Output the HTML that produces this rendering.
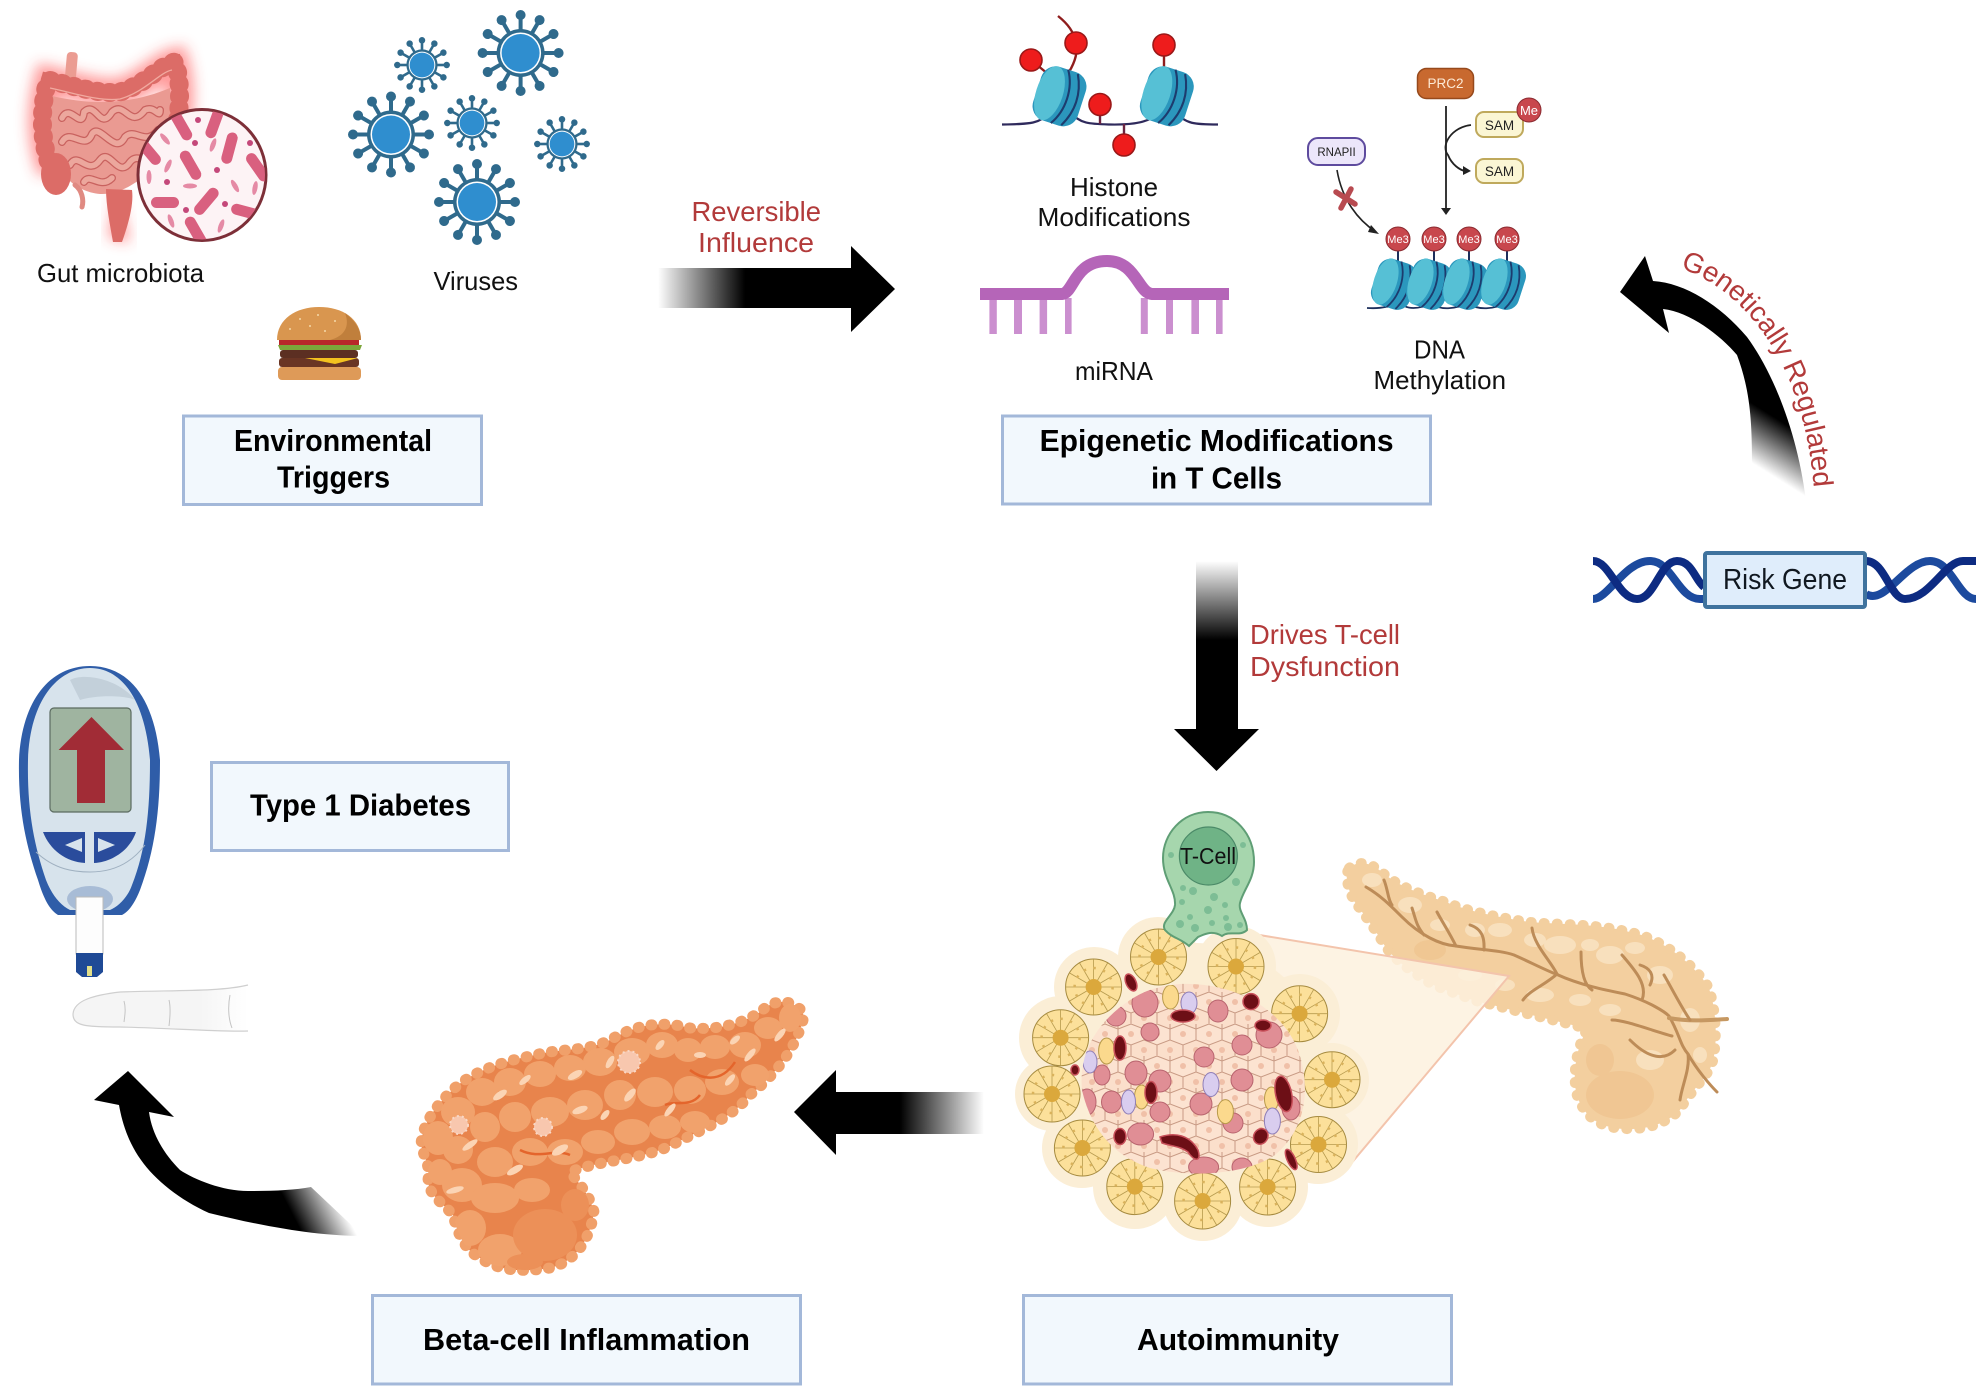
<!DOCTYPE html>
<html><head><meta charset="utf-8"><style>html,body{margin:0;padding:0;background:#fff}svg{display:block}text{font-family:"Liberation Sans",sans-serif}</style></head>
<body>
<svg xmlns="http://www.w3.org/2000/svg" width="1986" height="1395" viewBox="0 0 1986 1395">
<defs>
<linearGradient id="gr1" gradientUnits="userSpaceOnUse" x1="658" y1="0" x2="745" y2="0"><stop offset="0" stop-color="#fff"/><stop offset="1" stop-color="#000"/></linearGradient>
<linearGradient id="gr2" gradientUnits="userSpaceOnUse" x1="0" y1="561" x2="0" y2="640"><stop offset="0" stop-color="#fff"/><stop offset="1" stop-color="#000"/></linearGradient>
<linearGradient id="gr3" gradientUnits="userSpaceOnUse" x1="984" y1="0" x2="900" y2="0"><stop offset="0" stop-color="#fff"/><stop offset="1" stop-color="#000"/></linearGradient>
<linearGradient id="gr4" gradientUnits="userSpaceOnUse" x1="328" y1="1178" x2="285" y2="1200"><stop offset="0" stop-color="#fff"/><stop offset="1" stop-color="#000"/></linearGradient>
<linearGradient id="gr5" gradientUnits="userSpaceOnUse" x1="1752" y1="463" x2="1779" y2="420"><stop offset="0" stop-color="#fff"/><stop offset="1" stop-color="#000"/></linearGradient>
<linearGradient id="fing" gradientUnits="userSpaceOnUse" x1="200" y1="0" x2="248" y2="0"><stop offset="0" stop-color="#f5f5f5"/><stop offset="1" stop-color="#fff"/></linearGradient>
<filter id="glow" x="-30%" y="-30%" width="160%" height="160%"><feGaussianBlur stdDeviation="7"/></filter>
<clipPath id="micro"><ellipse cx="202" cy="175" rx="63" ry="64.5"/></clipPath>
<clipPath id="clusterClip"><path d="M1180,984 C1230,982 1280,1005 1298,1050 C1312,1090 1305,1130 1275,1155 C1245,1175 1190,1178 1150,1168 C1110,1155 1090,1125 1082,1090 C1078,1050 1100,1020 1130,1000 C1145,990 1160,986 1180,984Z"/></clipPath>
<clipPath id="orClip"><path d="M800,1009 C790,1000 775,998 760,1012 C740,1025 715,1030 690,1028 C660,1020 635,1025 610,1040 C585,1052 560,1048 535,1055 C510,1060 480,1068 458,1085 C435,1105 422,1125 421,1145 C425,1160 430,1165 428,1180 C428,1195 445,1205 453,1215 C458,1235 465,1250 480,1258 C500,1272 525,1272 550,1268 C575,1262 590,1240 594,1212 C590,1195 578,1182 570,1172 C600,1160 640,1160 670,1146 C700,1130 730,1120 750,1095 C775,1075 795,1050 803,1020 C804,1015 803,1012 800,1009Z"/></clipPath>
<pattern id="hex" patternUnits="userSpaceOnUse" width="26" height="32">
<rect width="26" height="32" fill="#fbdfcb"/>
<path d="M0,5 L13,0 L26,5 V16 L13,21 L0,16Z M13,21 V32 M0,16 V0 M26,16 V0" fill="#fce3d1" stroke="#c89a84" stroke-width="1"/>
<circle cx="13" cy="10" r="3" fill="#f0c0a8"/><circle cx="0" cy="26" r="3" fill="#f0c0a8"/><circle cx="26" cy="26" r="3" fill="#f0c0a8"/>
</pattern>
<g id="spk"><line x1="0" y1="-20" x2="0" y2="-34" stroke="#2f6a8c" stroke-width="4"/><circle cy="-38" r="5" fill="#2f6a8c"/></g>
<g id="virus">
<use href="#spk"/><use href="#spk" transform="rotate(30)"/><use href="#spk" transform="rotate(60)"/><use href="#spk" transform="rotate(90)"/><use href="#spk" transform="rotate(120)"/><use href="#spk" transform="rotate(150)"/><use href="#spk" transform="rotate(180)"/><use href="#spk" transform="rotate(210)"/><use href="#spk" transform="rotate(240)"/><use href="#spk" transform="rotate(270)"/><use href="#spk" transform="rotate(300)"/><use href="#spk" transform="rotate(330)"/>
<circle r="24" fill="#2f6a8c"/><circle r="20.5" fill="#fff"/><circle r="19" fill="#2f8ecf"/>
</g>
<g id="nuc" transform="rotate(18)">
<rect x="-19" y="-24" width="40" height="48" rx="13" fill="#2b97bd"/>
<ellipse cx="-8" cy="0" rx="11.5" ry="24" fill="#56c0d5"/>
<path d="M1,-24 C10,-10 10,10 1,24 M10,-23 C18,-8 18,8 10,23" fill="none" stroke="#1d3c6e" stroke-width="1.8"/>
</g>
<g id="ros">
<circle r="28" fill="#fce09a" stroke="#a58a3f" stroke-width="1"/>
<g stroke="#b69a4e" stroke-width=".8"><line x1="-28" y1="0" x2="28" y2="0"/><line x1="0" y1="-28" x2="0" y2="28"/><line x1="-24" y1="-14" x2="24" y2="14"/><line x1="-24" y1="14" x2="24" y2="-14"/><line x1="-14" y1="-24" x2="14" y2="24"/><line x1="-14" y1="24" x2="14" y2="-24"/></g>
<circle r="19" fill="none" stroke="#d9b25c" stroke-width="2.5" stroke-dasharray="2.5 7.4"/>
<circle r="8" fill="#dba83c"/>
</g>
</defs>
<rect width="1986" height="1395" fill="#fff"/>

<!-- GUT -->
<path d="M52,172 C40,140 40,110 48,80 C70,85 100,95 120,92 C145,85 160,65 175,62 C182,85 180,110 175,135" fill="none" stroke="#f33" stroke-width="28" opacity=".5" filter="url(#glow)"/>
<path d="M117,189 L130,242 L108,238Z" fill="#f33" opacity=".5" filter="url(#glow)"/>
<rect x="66" y="52" width="11" height="30" rx="4" fill="#eb9c92" transform="rotate(5 71 65)"/>
<path d="M52,96 C90,105 130,105 170,88 L174,150 C150,170 130,195 100,194 C75,192 52,170 48,140Z" fill="#ea9a92"/>
<g fill="none" stroke="#c9625f" stroke-width="8" stroke-linecap="round" stroke-linejoin="round">
<path d="M62,118 C70,102 82,132 84,112 C96,100 100,132 112,112 C125,100 130,130 145,110 C155,105 160,120 160,110"/>
<path d="M62,142 C70,127 85,152 92,134 C100,122 115,157 125,137 C135,127 145,147 158,130"/>
<path d="M70,165 C78,150 88,177 100,160 C110,147 118,180 130,162 C138,152 145,167 150,152"/>
<path d="M84,182 C90,172 100,190 112,178"/>
</g>
<g fill="none" stroke="#eca79d" stroke-width="5.5" stroke-linecap="round" stroke-linejoin="round">
<path d="M62,118 C70,102 82,132 84,112 C96,100 100,132 112,112 C125,100 130,130 145,110 C155,105 160,120 160,110"/>
<path d="M62,142 C70,127 85,152 92,134 C100,122 115,157 125,137 C135,127 145,147 158,130"/>
<path d="M70,165 C78,150 88,177 100,160 C110,147 118,180 130,162 C138,152 145,167 150,152"/>
<path d="M84,182 C90,172 100,190 112,178"/>
</g>
<path d="M52,172 C40,140 40,110 48,80 C70,85 100,95 120,92 C145,85 160,65 175,62 C182,85 180,110 175,135" fill="none" stroke="#dc6c67" stroke-width="14" stroke-linecap="round"/>
<path d="M52,172 C40,140 40,110 48,80 C70,85 100,95 120,92 C145,85 160,65 175,62 C182,85 180,110 175,135" fill="none" stroke="#dc6c67" stroke-width="19" stroke-linecap="round" stroke-dasharray="1 11"/>
<path d="M50,88 C70,92 100,102 120,99 C145,92 160,72 172,70" fill="none" stroke="#f1aaa0" stroke-width="1.3"/>
<ellipse cx="56" cy="174" rx="15" ry="21" fill="#dc6c67"/>
<path d="M75,185 C82,190 84,200 82,207" fill="none" stroke="#e08a82" stroke-width="5" stroke-linecap="round"/>
<path d="M106,189 L132,190 C134,205 128,225 122,242 L113,242 C110,225 106,205 106,189Z" fill="#dc6c67"/>
<!-- micro circle -->
<ellipse cx="202" cy="175" rx="64" ry="65.5" fill="#fdf3f5" stroke="#7d2f38" stroke-width="3"/>
<g clip-path="url(#micro)" fill="#d9607f">
<rect x="165" y="120" width="32" height="11" rx="5.5" transform="rotate(60 181 126)"/>
<rect x="199" y="117" width="32" height="11" rx="5.5" transform="rotate(-70 215 123)"/>
<rect x="213" y="143" width="32" height="11" rx="5.5" transform="rotate(-75 229 148)"/>
<rect x="133" y="146" width="32" height="11" rx="5.5" transform="rotate(50 149 151)"/>
<rect x="175" y="160" width="32" height="11" rx="5.5" transform="rotate(60 191 165)"/>
<rect x="242" y="162" width="32" height="11" rx="5.5" transform="rotate(55 258 167)"/>
<rect x="151" y="197" width="28" height="11" rx="5.5"/>
<rect x="190" y="196" width="32" height="11" rx="5.5" transform="rotate(-50 206 201)"/>
<rect x="231" y="206" width="28" height="11" rx="5.5" transform="rotate(15 245 211)"/>
<rect x="180" y="226" width="32" height="11" rx="5.5" transform="rotate(60 196 231)"/>
<g fill="#c4487a"><circle cx="198" cy="120" r="3"/><circle cx="195" cy="143" r="3"/><circle cx="250" cy="143" r="3"/><circle cx="217" cy="170" r="3"/><circle cx="167" cy="182" r="3"/><circle cx="225" cy="204" r="3"/><circle cx="186" cy="210" r="3"/></g>
<g fill="#e58aa5"><ellipse cx="165" cy="139" rx="2.5" ry="7" transform="rotate(-40 165 139)"/><ellipse cx="213" cy="145" rx="2.5" ry="7" transform="rotate(20 213 145)"/><ellipse cx="168" cy="166" rx="2.5" ry="7" transform="rotate(25 168 166)"/><ellipse cx="149" cy="177" rx="2.5" ry="7"/><ellipse cx="190" cy="186" rx="7" ry="2.5"/><ellipse cx="235" cy="186" rx="2.5" ry="7" transform="rotate(-30 235 186)"/><ellipse cx="255" cy="188" rx="2.5" ry="7" transform="rotate(10 255 188)"/><ellipse cx="171" cy="221" rx="2.5" ry="7" transform="rotate(-20 171 221)"/><ellipse cx="221" cy="226" rx="2.5" ry="7" transform="rotate(20 221 226)"/></g>
</g>
<text x="37" y="282" font-size="26" fill="#111" textLength="167" lengthAdjust="spacingAndGlyphs">Gut microbiota</text>

<!-- VIRUSES -->
<use href="#virus" transform="translate(422,65) scale(.65)"/>
<use href="#virus" transform="translate(520.6,53)"/>
<use href="#virus" transform="translate(391,134.5)"/>
<use href="#virus" transform="translate(472,123) scale(.65)"/>
<use href="#virus" transform="translate(562,144) scale(.65)"/>
<use href="#virus" transform="translate(477,202)"/>
<text x="433.5" y="290" font-size="26" fill="#111" textLength="84.5" lengthAdjust="spacingAndGlyphs">Viruses</text>

<!-- BURGER -->
<path d="M277,340 C277,319 296,307 319,307 C343,307 361,319 361,340Z" fill="#d9964f"/>
<path d="M345,313 C355,321 361,329 361,340 L330,340 C345,336 350,326 345,313Z" fill="#c07f3c"/>
<g fill="#f5d8a8"><circle cx="300" cy="319" r="1"/><circle cx="318" cy="315" r="1"/><circle cx="335" cy="321" r="1"/><circle cx="310" cy="326" r="1"/><circle cx="290" cy="329" r="1"/><circle cx="325" cy="331" r="1"/></g>
<rect x="279" y="340" width="80" height="6" fill="#b8262a"/>
<path d="M278,345 H362 L360,350 H345 L340,352 H300 L295,350 H280Z" fill="#7ca53a"/>
<rect x="280" y="350" width="78" height="8" rx="3" fill="#5c2f22"/>
<rect x="279" y="358" width="80" height="9" rx="3" fill="#6a3524"/>
<path d="M305,358 H358 L335,364 Z" fill="#f3c21f"/>
<rect x="278" y="367" width="83" height="13" rx="4" fill="#de9a58"/>

<!-- BOX ENV -->
<rect x="183.5" y="416" width="298" height="88.5" fill="#f2f8fd" stroke="#a3b8d9" stroke-width="3"/>
<text x="234" y="451" font-size="31" font-weight="bold" fill="#000" textLength="198" lengthAdjust="spacingAndGlyphs">Environmental</text>
<text x="277" y="487.5" font-size="31" font-weight="bold" fill="#000" textLength="113" lengthAdjust="spacingAndGlyphs">Triggers</text>

<!-- ARROW REVERSIBLE -->
<path d="M658,268 H851 V246 L895,289 L851,332 V308 H658Z" fill="url(#gr1)"/>
<text x="691.5" y="221" font-size="28" fill="#b23a3a" textLength="129.5" lengthAdjust="spacingAndGlyphs">Reversible</text>
<text x="698" y="252" font-size="28" fill="#b23a3a" textLength="116" lengthAdjust="spacingAndGlyphs">Influence</text>

<!-- HISTONES -->
<path d="M1002,124.5 C1030,124 1040,124 1050,112 M1070,112 C1080,124 1090,124 1110,124.5 C1135,125 1150,122 1160,112 M1176,112 C1185,124 1195,124.5 1218,124.5" fill="none" stroke="#2f2a5c" stroke-width="2.2"/>
<g stroke="#8f1d1d" stroke-width="2.4" fill="none">
<path d="M1058,16 C1068,24 1074,32 1076,43 C1078,52 1075,62 1069,72"/>
<line x1="1031" y1="60" x2="1048" y2="74"/>
<line x1="1164" y1="45" x2="1164" y2="70"/>
</g>
<line x1="1100" y1="104" x2="1100" y2="124" stroke="#6b2440" stroke-width="2.4"/>
<line x1="1124" y1="124" x2="1124" y2="145" stroke="#6b2440" stroke-width="2.4"/>
<use href="#nuc" transform="translate(1058.4,96) scale(1.17)"/>
<use href="#nuc" transform="translate(1165.7,96) scale(1.17)"/>
<g fill="#ee1c1c" stroke="#9a1818" stroke-width="1.6">
<circle cx="1031" cy="60" r="11"/><circle cx="1076" cy="43" r="11"/><circle cx="1164" cy="45" r="11"/><circle cx="1100" cy="104.5" r="11"/><circle cx="1124" cy="145" r="11"/>
</g>
<text x="1070" y="196" font-size="26" fill="#111" textLength="88" lengthAdjust="spacingAndGlyphs">Histone</text>
<text x="1037.5" y="226" font-size="26" fill="#111" textLength="153" lengthAdjust="spacingAndGlyphs">Modifications</text>

<!-- miRNA -->
<g fill="#cb8fcf"><rect x="989.4" y="298" width="7.4" height="36"/><rect x="1014" y="298" width="8" height="36"/><rect x="1039.6" y="298" width="7.5" height="36"/><rect x="1065" y="298" width="6.6" height="36"/><rect x="1140.8" y="298" width="7" height="36"/><rect x="1166" y="298" width="7" height="36"/><rect x="1191.4" y="298" width="7.6" height="36"/><rect x="1216" y="298" width="6.6" height="36"/></g>
<path d="M980,294 H1062 C1074,293 1074,261 1107,261 C1136,261 1138,293 1152,294 H1229" fill="none" stroke="#b565b8" stroke-width="12"/>
<text x="1075" y="380" font-size="26" fill="#111" textLength="78" lengthAdjust="spacingAndGlyphs">miRNA</text>

<!-- DNA METHYL -->
<path d="M1367,308 C1385,309 1390,306 1400,301 C1405,311 1420,309 1432,303 C1440,311 1455,309 1468,303 C1478,311 1495,309 1505,303 L1512,308" fill="none" stroke="#1d2f5c" stroke-width="1.8"/>
<g stroke="#1d2f5c" stroke-width="2"><line x1="1398" y1="239" x2="1398" y2="266"/><line x1="1434" y1="239" x2="1434" y2="266"/><line x1="1469" y1="239" x2="1469" y2="266"/><line x1="1507" y1="239" x2="1507" y2="266"/></g>
<use href="#nuc" transform="translate(1393,284)"/>
<use href="#nuc" transform="translate(1428,284)"/>
<use href="#nuc" transform="translate(1464,284)"/>
<use href="#nuc" transform="translate(1502,284)"/>
<g fill="#c8474d" stroke="#8a2a30" stroke-width="1"><circle cx="1398" cy="239" r="12"/><circle cx="1434" cy="239" r="12"/><circle cx="1469" cy="239" r="12"/><circle cx="1507" cy="239" r="12"/></g>
<g font-size="11" fill="#fff" text-anchor="middle"><text x="1398" y="243">Me3</text><text x="1434" y="243">Me3</text><text x="1469" y="243">Me3</text><text x="1507" y="243">Me3</text></g>
<rect x="1417.5" y="68.5" width="56" height="30" rx="9" fill="#c8692f" stroke="#96491c" stroke-width="1.5"/>
<text x="1445.5" y="88" font-size="13.5" fill="#fde9d4" text-anchor="middle">PRC2</text>
<line x1="1446" y1="106" x2="1446" y2="209" stroke="#222" stroke-width="1.8"/>
<path d="M1441,208 H1451 L1446,215Z" fill="#222"/>
<path d="M1471,125 C1452,127 1440,145 1448,155 C1452,165 1460,170 1465,171" fill="none" stroke="#222" stroke-width="1.8"/>
<path d="M1463,166 L1471,171 L1463,175Z" fill="#222"/>
<rect x="1476" y="112" width="47" height="25" rx="8" fill="#fbf6d4" stroke="#bfa95c" stroke-width="2"/>
<rect x="1476" y="159" width="47" height="24" rx="8" fill="#fbf6d4" stroke="#bfa95c" stroke-width="2"/>
<text x="1499.5" y="130" font-size="13.5" fill="#222" text-anchor="middle">SAM</text>
<text x="1499.5" y="176" font-size="13.5" fill="#222" text-anchor="middle">SAM</text>
<circle cx="1529" cy="110" r="12" fill="#c8474d" stroke="#8a2a30"/>
<text x="1529" y="115" font-size="13" fill="#fff" text-anchor="middle">Me</text>
<rect x="1308" y="138" width="57" height="27" rx="10" fill="#ece6fa" stroke="#5e4b9e" stroke-width="2"/>
<text x="1336.5" y="156" font-size="11.5" fill="#222" text-anchor="middle">RNAPII</text>
<path d="M1337,170 C1342,200 1358,220 1376,232" fill="none" stroke="#222" stroke-width="1.6"/>
<path d="M1371,225 L1379,234 L1368,232Z" fill="#222"/>
<path d="M1336,192 L1355,204 M1351,189 L1341,208" stroke="#b84a50" stroke-width="5.5" stroke-linecap="round"/>
<text x="1414" y="358.5" font-size="26" fill="#111" textLength="51" lengthAdjust="spacingAndGlyphs">DNA</text>
<text x="1373.5" y="389" font-size="26" fill="#111" textLength="132.5" lengthAdjust="spacingAndGlyphs">Methylation</text>

<!-- BOX EPI -->
<rect x="1002.5" y="416" width="428" height="88" fill="#f2f8fd" stroke="#a3b8d9" stroke-width="3"/>
<text x="1039.6" y="451" font-size="31" font-weight="bold" fill="#000" textLength="354" lengthAdjust="spacingAndGlyphs">Epigenetic Modifications</text>
<text x="1151" y="488.5" font-size="31" font-weight="bold" fill="#000" textLength="131" lengthAdjust="spacingAndGlyphs">in T Cells</text>

<!-- GENETIC ARROW -->
<path d="M1645,256 L1653,281 C1685,283 1720,305 1747,337 C1775,375 1800,440 1807,510 L1752,463 C1752,420 1750,390 1737,355 C1720,335 1690,312 1663,309 L1669,333 L1620,292Z" fill="url(#gr5)"/>
<path id="gpath" d="M1680,268 C1750,292 1805,370 1814,490" fill="none"/>
<text font-size="28" fill="#b23a3a"><textPath href="#gpath" textLength="272" lengthAdjust="spacing">Genetically Regulated</textPath></text>

<!-- RISK GENE -->
<g fill="none" stroke-width="8">
<path d="M1593,599 C1608,599 1625,561 1650,561 C1672,561 1678,599 1700,599 L1704,599" stroke="#1c4a9e"/>
<path d="M1593,561 C1610,561 1618,599 1637,599 C1655,599 1660,561 1677,561 C1692,561 1695,580 1704,587" stroke="#0d2b82"/>
<path d="M1866,594 C1885,606 1905,561 1930,561 C1952,561 1958,599 1976,599" stroke="#1c4a9e"/>
<path d="M1866,561 C1885,561 1890,599 1905,599 C1930,599 1945,561 1963,561 L1976,561" stroke="#0d2b82"/>
</g>
<rect x="1705" y="553" width="160" height="54" rx="2" fill="#dfedfb" stroke="#3f739e" stroke-width="4"/>
<text x="1723" y="589" font-size="29" fill="#101820" textLength="124" lengthAdjust="spacingAndGlyphs">Risk Gene</text>

<!-- DRIVES ARROW -->
<path d="M1196,561 H1238 V729 H1259 L1216.5,771 L1174,729 H1196Z" fill="url(#gr2)"/>
<text x="1250" y="644" font-size="28" fill="#b23a3a" textLength="150" lengthAdjust="spacingAndGlyphs">Drives T-cell</text>
<text x="1250" y="676" font-size="28" fill="#b23a3a" textLength="150" lengthAdjust="spacingAndGlyphs">Dysfunction</text>

<!-- LIGHT PANCREAS -->
<path id="lp" d="M1349,868 C1358,860 1370,862 1382,872 C1400,888 1425,895 1446,902 C1470,912 1500,917 1523,921 C1545,925 1590,922 1630,932 C1660,938 1690,960 1708,986 C1716,1005 1718,1040 1713,1061 C1708,1078 1695,1085 1680,1110 C1668,1122 1650,1130 1625,1129 C1600,1128 1585,1118 1577,1096 C1572,1078 1575,1050 1587,1029 C1570,1024 1550,1020 1504,1008 C1490,1004 1475,1002 1465,997 C1445,990 1430,985 1417,975 C1402,965 1390,955 1383,943 C1372,925 1362,912 1354,901 C1348,890 1344,875 1349,868Z" fill="#f3cf9f" stroke="#f3cf9f" stroke-width="10" stroke-linecap="round" stroke-dasharray="1 12" />
<g fill="#f8e0bd"><ellipse cx="1372" cy="880" rx="10" ry="7"/><ellipse cx="1410" cy="905" rx="12" ry="8"/><ellipse cx="1440" cy="925" rx="10" ry="6"/><ellipse cx="1475" cy="930" rx="10" ry="7"/><ellipse cx="1500" cy="930" rx="12" ry="7"/><ellipse cx="1535" cy="940" rx="11" ry="7"/><ellipse cx="1560" cy="945" rx="16" ry="9"/><ellipse cx="1590" cy="945" rx="9" ry="6"/><ellipse cx="1610" cy="955" rx="14" ry="9"/><ellipse cx="1635" cy="948" rx="10" ry="6"/><ellipse cx="1660" cy="975" rx="13" ry="9"/><ellipse cx="1690" cy="1020" rx="10" ry="12"/><ellipse cx="1610" cy="1010" rx="11" ry="6"/><ellipse cx="1580" cy="1000" rx="11" ry="6"/><ellipse cx="1540" cy="995" rx="14" ry="7"/><ellipse cx="1505" cy="985" rx="10" ry="6"/><ellipse cx="1470" cy="975" rx="12" ry="6"/><ellipse cx="1650" cy="1060" rx="14" ry="10"/><ellipse cx="1700" cy="1055" rx="7" ry="8"/></g>
<g fill="#efc48f" opacity=".75"><ellipse cx="1620" cy="1095" rx="34" ry="24"/><ellipse cx="1600" cy="1060" rx="14" ry="16"/><ellipse cx="1430" cy="950" rx="16" ry="10"/></g>
<g fill="none" stroke="#bd8c58" stroke-width="3" stroke-linecap="round">
<path d="M1366,887 C1380,895 1390,905 1402,917 C1420,935 1440,945 1456,946 C1480,950 1500,950 1514,955 C1530,962 1545,970 1557,974.5 C1580,985 1605,990 1625,994 C1650,1002 1665,1012 1669,1016 C1680,1035 1680,1045 1688,1054 C1697,1070 1710,1085 1717,1092"/>
<path d="M1669,1018 C1690,1022 1710,1020 1727,1019" stroke-width="4" stroke="#c69862"/>
<path d="M1384,880 C1388,890 1388,900 1392,905 M1412,908 C1416,920 1416,925 1424,935 M1437,912 C1444,925 1448,930 1456,946 M1470,925 C1486,930 1484,945 1484,950 M1532,928 C1534,945 1550,960 1557,974 M1581,952 C1581,970 1584,985 1592,990 M1622,955 C1635,970 1648,985 1642,1000 M1640,965 C1650,968 1655,975 1650,985 M1664,975 C1670,985 1680,1005 1690,1020"/>
<path d="M1557,974 C1545,985 1530,990 1523,1000 M1612,1020 C1625,1020 1650,1030 1672,1036 M1630,1040 C1650,1060 1665,1060 1675,1050 M1688,1054 C1690,1070 1682,1085 1680,1100"/>
</g>

<!-- WEDGE -->
<path d="M1247,933 L1509,976 L1349,1166 L1290,1100Z" fill="#fdf1de" fill-opacity=".85"/>
<path d="M1247,933 L1509,976 L1349,1166" fill="none" stroke="#f3c4ac" stroke-width="2"/>

<!-- ISLET BG -->
<g fill="#fbeed6">
<circle cx="1194" cy="1078" r="135"/>
<circle cx="1158" cy="957" r="40"/><circle cx="1236" cy="966" r="40"/><circle cx="1094" cy="987" r="40"/><circle cx="1300" cy="1014" r="40"/><circle cx="1061" cy="1038" r="42"/><circle cx="1332" cy="1080" r="37"/><circle cx="1052" cy="1094" r="37"/><circle cx="1318" cy="1144" r="40"/><circle cx="1082" cy="1148" r="40"/><circle cx="1135" cy="1187" r="42"/><circle cx="1203" cy="1201" r="40"/><circle cx="1268" cy="1187" r="40"/>
</g>
<use href="#ros" x="1158.5" y="957"/><use href="#ros" x="1236" y="966.5"/><use href="#ros" x="1093.6" y="987"/><use href="#ros" x="1299.6" y="1013.7"/><use href="#ros" x="1060.6" y="1037.7"/><use href="#ros" x="1332" y="1079.7"/><use href="#ros" x="1052" y="1094"/><use href="#ros" x="1318.5" y="1144.5"/><use href="#ros" x="1082.4" y="1148"/><use href="#ros" x="1134.8" y="1186.6"/><use href="#ros" x="1202.6" y="1201"/><use href="#ros" x="1267.6" y="1187"/>

<!-- CLUSTER -->
<g clip-path="url(#clusterClip)">
<rect x="1070" y="975" width="250" height="210" fill="url(#hex)"/>
<g fill="#e08e95" stroke="#b8646e" stroke-width="1">
<ellipse cx="1145" cy="1003" rx="13" ry="14"/><ellipse cx="1116" cy="1016" rx="10" ry="10"/><ellipse cx="1218" cy="1011" rx="10" ry="11"/><ellipse cx="1269" cy="1035" rx="13" ry="13"/><ellipse cx="1242" cy="1045" rx="10" ry="10"/><ellipse cx="1150" cy="1032" rx="9" ry="9"/><ellipse cx="1204" cy="1057" rx="10" ry="10"/><ellipse cx="1136" cy="1073" rx="11" ry="12"/><ellipse cx="1160" cy="1081" rx="11" ry="11"/><ellipse cx="1242" cy="1080" rx="11" ry="11"/><ellipse cx="1201" cy="1104" rx="11" ry="11"/><ellipse cx="1160" cy="1112" rx="10" ry="10"/><ellipse cx="1111.5" cy="1102" rx="10" ry="11"/><ellipse cx="1087" cy="1102" rx="9" ry="13"/><ellipse cx="1140.6" cy="1134" rx="13" ry="11"/><ellipse cx="1203.6" cy="1167" rx="15" ry="10"/><ellipse cx="1291" cy="1108" rx="9" ry="12"/><ellipse cx="1233" cy="1123" rx="10" ry="10"/><ellipse cx="1102" cy="1075" rx="8" ry="10"/><ellipse cx="1242" cy="1167" rx="10" ry="9"/>
</g>
<g fill="#fbd98d" stroke="#b89a4a"><ellipse cx="1170.6" cy="997" rx="8" ry="12"/><ellipse cx="1106.6" cy="1051" rx="8" ry="13"/><ellipse cx="1141.5" cy="1097" rx="7" ry="12"/><ellipse cx="1271.5" cy="1099" rx="7" ry="12"/><ellipse cx="1225.4" cy="1111.6" rx="8" ry="12"/></g>
<g fill="#d9cdef" stroke="#8f7fb8"><ellipse cx="1189" cy="1003" rx="8" ry="11"/><ellipse cx="1090" cy="1062" rx="7" ry="11"/><ellipse cx="1211" cy="1084.5" rx="8" ry="12"/><ellipse cx="1128.5" cy="1102" rx="7" ry="12"/><ellipse cx="1272.4" cy="1121" rx="8" ry="13"/></g>
</g>
<g fill="#6d0f16" stroke="#c8505a" stroke-width="1.5">
<ellipse cx="1131" cy="982.5" rx="5" ry="9" transform="rotate(-25 1131 982.5)"/>
<ellipse cx="1183" cy="1016" rx="12" ry="6"/>
<ellipse cx="1251" cy="1001.6" rx="8" ry="8"/>
<ellipse cx="1263" cy="1025.5" rx="8" ry="5.5"/>
<ellipse cx="1120" cy="1048" rx="6" ry="12"/>
<ellipse cx="1075" cy="1070" rx="4" ry="5"/>
<ellipse cx="1151" cy="1092.5" rx="6" ry="11"/>
<ellipse cx="1283.6" cy="1094" rx="8" ry="18" transform="rotate(-12 1283 1094)"/>
<ellipse cx="1120" cy="1136.5" rx="6" ry="8"/>
<path d="M1160,1137 C1175,1132 1190,1135 1198,1150 C1202,1162 1194,1162 1188,1152 C1180,1146 1170,1146 1162,1143Z"/>
<ellipse cx="1261" cy="1136.5" rx="7" ry="8" transform="rotate(30 1261 1136)"/>
<ellipse cx="1291" cy="1159.5" rx="4" ry="11" transform="rotate(-25 1291 1159)"/>
</g>

<!-- T-CELL -->
<path d="M1208,812 C1235,812 1254,834 1254,862 C1254,880 1243,890 1240,903 C1238,912 1247,918 1247,930 C1240,937 1230,930 1222,936 C1212,930 1205,934 1198,937 L1189,946 C1180,938 1172,938 1165,930 C1160,922 1174,915 1175,905 C1176,890 1163,880 1163,858 C1163,834 1182,812 1208,812Z" fill="#a6d6ad" stroke="#5f9e75" stroke-width="2"/>
<circle cx="1208.4" cy="856" r="29" fill="#6fb386" stroke="#4b8a68" stroke-width="1.2"/>
<g fill="#7dbd95"><circle cx="1171" cy="855" r="3"/><circle cx="1243" cy="845" r="3"/><circle cx="1236" cy="882" r="4"/><circle cx="1183" cy="888" r="3"/><circle cx="1193" cy="891" r="4"/><circle cx="1182" cy="902" r="3"/><circle cx="1214" cy="897" r="4"/><circle cx="1208" cy="910" r="4"/><circle cx="1190" cy="917" r="3"/><circle cx="1226" cy="918" r="3"/><circle cx="1180" cy="924" r="4"/><circle cx="1195" cy="928" r="4"/><circle cx="1212" cy="923" r="3"/><circle cx="1228" cy="927" r="4"/><circle cx="1240" cy="925" r="3"/><circle cx="1225" cy="905" r="3"/></g>
<text x="1180" y="864" font-size="23" fill="#111" textLength="56" lengthAdjust="spacingAndGlyphs">T-Cell</text>

<!-- BOX AUTO -->
<rect x="1023.5" y="1295.5" width="428" height="88.5" fill="#f2f8fd" stroke="#a3b8d9" stroke-width="3"/>
<text x="1137" y="1350" font-size="31" font-weight="bold" fill="#000" textLength="202" lengthAdjust="spacingAndGlyphs">Autoimmunity</text>

<!-- LEFT ARROW -->
<path d="M984,1092 H836 V1070 L794,1112 L836,1155 V1134 H984Z" fill="url(#gr3)"/>

<!-- ORANGE PANCREAS -->
<path d="M800,1009 C790,1000 775,998 760,1012 C740,1025 715,1030 690,1028 C660,1020 635,1025 610,1040 C585,1052 560,1048 535,1055 C510,1060 480,1068 458,1085 C435,1105 422,1125 421,1145 C425,1160 430,1165 428,1180 C428,1195 445,1205 453,1215 C458,1235 465,1250 480,1258 C500,1272 525,1272 550,1268 C575,1262 590,1240 594,1212 C590,1195 578,1182 570,1172 C600,1160 640,1160 670,1146 C700,1130 730,1120 750,1095 C775,1075 795,1050 803,1020 C804,1015 803,1012 800,1009Z" fill="#e8844c" stroke="#f0a06a" stroke-width="11" stroke-linecap="round" stroke-dasharray="1 12"/>
<g clip-path="url(#orClip)" fill="#f1a26c">
<ellipse cx="790" cy="1018" rx="11" ry="14"/><ellipse cx="768" cy="1028" rx="14" ry="11"/><ellipse cx="745" cy="1045" rx="16" ry="13"/><ellipse cx="715" cy="1047" rx="15" ry="12"/><ellipse cx="688" cy="1050" rx="14" ry="12"/><ellipse cx="662" cy="1045" rx="16" ry="13"/><ellipse cx="632" cy="1052" rx="18" ry="14"/><ellipse cx="600" cy="1062" rx="17" ry="14"/><ellipse cx="570" cy="1068" rx="16" ry="13"/><ellipse cx="540" cy="1074" rx="16" ry="13"/><ellipse cx="510" cy="1082" rx="16" ry="14"/><ellipse cx="482" cy="1092" rx="16" ry="14"/><ellipse cx="458" cy="1112" rx="17" ry="15"/><ellipse cx="438" cy="1138" rx="15" ry="17"/>
<ellipse cx="755" cy="1075" rx="14" ry="11"/><ellipse cx="722" cy="1082" rx="17" ry="13"/><ellipse cx="690" cy="1090" rx="16" ry="14"/><ellipse cx="655" cy="1092" rx="18" ry="15"/><ellipse cx="620" cy="1095" rx="16" ry="15"/><ellipse cx="585" cy="1105" rx="18" ry="15"/><ellipse cx="550" cy="1112" rx="19" ry="15"/><ellipse cx="515" cy="1117" rx="16" ry="15"/><ellipse cx="485" cy="1127" rx="15" ry="15"/><ellipse cx="458" cy="1150" rx="15" ry="14"/>
<ellipse cx="695" cy="1122" rx="15" ry="11"/><ellipse cx="665" cy="1127" rx="16" ry="12"/><ellipse cx="632" cy="1132" rx="18" ry="13"/><ellipse cx="598" cy="1142" rx="17" ry="12"/><ellipse cx="565" cy="1152" rx="18" ry="13"/><ellipse cx="530" cy="1152" rx="18" ry="14"/><ellipse cx="495" cy="1162" rx="18" ry="15"/><ellipse cx="462" cy="1185" rx="20" ry="17"/><ellipse cx="440" cy="1172" rx="12" ry="13"/>
<ellipse cx="495" cy="1198" rx="24" ry="15"/><ellipse cx="532" cy="1190" rx="18" ry="12"/><ellipse cx="470" cy="1228" rx="16" ry="18"/><ellipse cx="500" cy="1250" rx="22" ry="16"/>
</g>
<g clip-path="url(#orClip)" fill="#ec9058">
<ellipse cx="545" cy="1235" rx="32" ry="26"/><ellipse cx="575" cy="1205" rx="14" ry="16"/><ellipse cx="525" cy="1262" rx="18" ry="8"/>
</g>
<g fill="none" stroke="#e4652c" stroke-width="2.5">
<path d="M690,1070 C700,1078 720,1085 735,1062 M665,1105 C675,1100 690,1108 700,1095 M520,1150 C540,1160 555,1148 570,1155"/>
</g>
<g fill="#fbd4b4">
<ellipse cx="500" cy="1095" rx="8" ry="3.5" transform="rotate(-35 500 1095)"/><ellipse cx="525" cy="1080" rx="7" ry="3" transform="rotate(-40 525 1080)"/><ellipse cx="575" cy="1075" rx="8" ry="3.5" transform="rotate(-30 575 1075)"/><ellipse cx="610" cy="1062" rx="7" ry="3" transform="rotate(-60 610 1062)"/><ellipse cx="660" cy="1045" rx="6" ry="3" transform="rotate(-50 660 1045)"/><ellipse cx="700" cy="1055" rx="6" ry="3"/><ellipse cx="735" cy="1040" rx="6" ry="3" transform="rotate(-40 735 1040)"/><ellipse cx="750" cy="1055" rx="8" ry="3" transform="rotate(-50 750 1055)"/><ellipse cx="780" cy="1035" rx="8" ry="3" transform="rotate(-50 780 1035)"/><ellipse cx="515" cy="1170" rx="9" ry="3.5" transform="rotate(-30 515 1170)"/><ellipse cx="455" cy="1190" rx="9" ry="3" transform="rotate(-15 455 1190)"/><ellipse cx="580" cy="1110" rx="8" ry="3.5" transform="rotate(-20 580 1110)"/><ellipse cx="630" cy="1095" rx="8" ry="3.5" transform="rotate(-50 630 1095)"/><ellipse cx="670" cy="1110" rx="8" ry="3" transform="rotate(-50 670 1110)"/><ellipse cx="470" cy="1145" rx="9" ry="3" transform="rotate(-35 470 1145)"/><ellipse cx="560" cy="1150" rx="9" ry="4" transform="rotate(-30 560 1150)"/><ellipse cx="605" cy="1115" rx="6" ry="3" transform="rotate(-50 605 1115)"/><ellipse cx="730" cy="1080" rx="7" ry="3" transform="rotate(-50 730 1080)"/>
</g>
<g fill="#f8c7ae" stroke="#f9d8c6" stroke-width="2" stroke-dasharray="2 3"><circle cx="459" cy="1125" r="9"/><circle cx="543" cy="1127" r="9"/><circle cx="629" cy="1062" r="11"/></g>

<!-- BOX BETA -->
<rect x="372.5" y="1295.5" width="428" height="88.5" fill="#f2f8fd" stroke="#a3b8d9" stroke-width="3"/>
<text x="423" y="1350" font-size="31" font-weight="bold" fill="#000" textLength="327" lengthAdjust="spacingAndGlyphs">Beta-cell Inflammation</text>

<!-- CURVED ARROW LL -->
<path d="M128,1071 L174,1117 L149,1112 C152,1135 165,1155 180,1170 C195,1180 225,1192 251,1191 C275,1191 295,1190 311,1187 L363,1236 C320,1236 270,1228 209,1213 C180,1200 155,1180 141,1160 C128,1142 122,1122 119,1105 L94,1100Z" fill="url(#gr4)"/>

<!-- GLUCOMETER -->
<path d="M90,666 C130,666 155,700 160,760 C160,810 155,850 140,890 C134,905 128,912 122,915 L58,915 C50,910 44,900 38,880 C26,845 18,810 19,760 C22,700 50,666 90,666Z" fill="#2f5da8"/>
<path d="M90,668 C122,668 145,700 150,760 C150,810 146,850 132,885 C128,897 118,907 110,910 L70,910 C60,905 52,895 46,880 C34,845 27,810 28,760 C30,700 58,668 90,668Z" fill="#d7e3ec"/>
<path d="M70,680 C85,672 120,680 135,700 C125,695 95,695 80,700Z" fill="#c3d0da"/>
<rect x="50" y="708" width="81" height="104" rx="4" fill="#9fb4a0" stroke="#5b6b60" stroke-width="1.2"/>
<path d="M91.5,717 L124,750 H105 V803 H77 V750 H58.6Z" fill="#a12c36"/>
<path d="M43,832 H85 V863 C66,862 50,850 43,832Z" fill="#2a4c9c"/>
<path d="M94,832 H136 C130,850 112,862 94,863Z" fill="#2a4c9c"/>
<path d="M82,838 V852 L65,845Z" fill="#d7e3ec"/>
<path d="M98,838 V852 L115,845Z" fill="#d7e3ec"/>
<path d="M36,852 C55,870 75,872 90,872 C110,872 130,865 145,845" fill="none" stroke="#9fb0c0" stroke-width="1"/>
<ellipse cx="90" cy="899" rx="23" ry="13" fill="#a8bcd6"/>
<rect x="76" y="897" width="27" height="57" fill="#fdfdfd" stroke="#bbb"/>
<path d="M76,953 H103 V972 L97,977 H82 L76,972Z" fill="#1f4a96"/>
<rect x="87" y="966" width="5" height="10" fill="#e3e08a"/>

<!-- FINGER -->
<path d="M248,985 C220,992 170,990 120,992 C95,995 74,1000 73,1014 C73,1026 85,1027 120,1027 C170,1028 215,1032 248,1031" fill="url(#fing)" stroke="#cfcfcf" stroke-width="1.2"/>
<path d="M124,1001 C126,1008 125,1015 124,1022 M169,1000 C171,1008 170,1018 169,1026 M230,995 C228,1005 228,1018 232,1028" fill="none" stroke="#c4c4c4"/>

<!-- BOX T1D -->
<rect x="211.5" y="762.5" width="297" height="88" fill="#f2f8fd" stroke="#a3b8d9" stroke-width="3"/>
<text x="250" y="815.5" font-size="31" font-weight="bold" fill="#000" textLength="221" lengthAdjust="spacingAndGlyphs">Type 1 Diabetes</text>
</svg>
</body></html>
